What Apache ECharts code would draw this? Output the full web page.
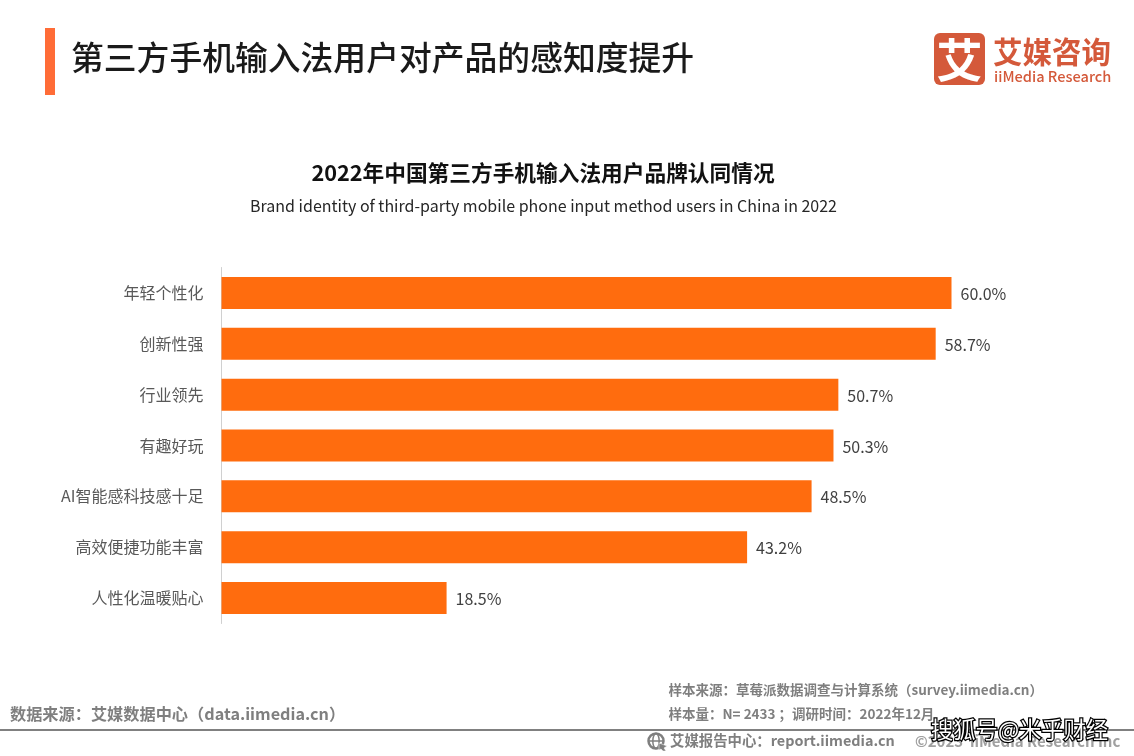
<!DOCTYPE html>
<html><head><meta charset="utf-8">
<style>html,body{margin:0;padding:0;background:#fff}#c{width:1134px;height:756px}</style>
<script src="https://cdn.jsdelivr.net/npm/echarts@6/dist/echarts.min.js"></script>
</head><body><div id="c"></div>
<script>
const categories = ['年轻个性化','创新性强','行业领先','有趣好玩','AI智能感科技感十足','高效便捷功能丰富','人性化温暖贴心'];
const values = [60.0,58.7,50.7,50.3,48.5,43.2,18.5];
const FF = '"Noto Sans CJK SC","Noto Sans",sans-serif';
const chart = echarts.init(document.getElementById('c'), null, {renderer:'canvas'});
const txt = (x,y,t,size,color,weight,align) => ({type:'text',x,y,z:10,style:{text:t,fontSize:size,fontFamily:FF,fill:color,fontWeight:weight||'normal',align:align||'left',verticalAlign:'middle'}});
chart.setOption({
  animation:false,
  backgroundColor:'#fff',
  grid:{left:221.5,top:267.5,width:730,height:356,containLabel:false},
  xAxis:{type:'value',min:0,max:60,show:false},
  yAxis:{type:'category',inverse:true,data:categories,
    axisLine:{show:true,lineStyle:{color:'#d0d0d0',width:1}},
    axisTick:{show:false},
    axisLabel:{color:'#595959',fontSize:16,fontFamily:FF,margin:18,padding:[0,0,4,0]}},
  series:[{type:'bar',data:values,barWidth:32,itemStyle:{color:'#FF6C0E'},
    label:{show:true,position:'right',distance:9,offset:[0,1],color:'#404040',fontSize:16,fontFamily:FF,formatter:p=>p.value.toFixed(1)+'%'}}],
  graphic:[
    {type:'rect',shape:{x:45,y:28,width:10,height:67},style:{fill:'#FF6C37'}},
    txt(71,58,'第三方手机输入法用户对产品的感知度提升',32.8,'#1a1a1a','500'),
    {type:'rect',shape:{x:934,y:33,width:51,height:52,r:6},style:{fill:'#D4593A'}},
    txt(959.5,60,'艾',46,'#fff','bold','center'),
    txt(993,52,'艾媒咨询',29.5,'#D4593A','bold'),
    txt(994,76.5,'iiMedia Research',14.6,'#D4593A','500'),
    txt(543,173,'2022年中国第三方手机输入法用户品牌认同情况',21.7,'#111','bold','center'),
    txt(543.5,206,'Brand identity of third-party mobile phone input method users in China in 2022',16,'#262626','normal','center'),
    txt(10,714,'数据来源：艾媒数据中心（data.iimedia.cn）',16.2,'#7f7f7f','bold'),
    txt(668.5,690,'样本来源：草莓派数据调查与计算系统（survey.iimedia.cn）',13.5,'#7f7f7f','bold'),
    txt(668.5,714,'样本量：N= 2433 ；调研时间：2022年12月',13.5,'#7f7f7f','bold'),
    {type:'rect',shape:{x:0,y:729,width:1134,height:2},style:{fill:'#808080'}},
    {type:'circle',shape:{cx:656,cy:741,r:7.5},style:{fill:'none',stroke:'#7f7f7f',lineWidth:2.5}},
    {type:'line',shape:{x1:648,y1:741,x2:664,y2:741},style:{stroke:'#7f7f7f',lineWidth:1.5}},
    {type:'ellipse',shape:{cx:656,cy:741,rx:3.2,ry:7.5},style:{fill:'none',stroke:'#7f7f7f',lineWidth:1.5}},
    {type:'polygon',shape:{points:[[659,743],[667,746],[664,748],[666,751],[663,751],[661,749],[659,750]]},style:{fill:'#7f7f7f',stroke:'#fff',lineWidth:0.5}},
    txt(670,741,'艾媒报告中心：report.iimedia.cn',14.4,'#7f7f7f','bold'),
    txt(915,741,'©2023  iiMedia Research Inc',15,'#a0a0a0','bold'),
    {type:'text',x:931,y:730,z:20,style:{text:'搜狐号@米乎财经',fontSize:22.3,fontFamily:FF,fill:'#fff',stroke:'#000',lineWidth:2.5,fontWeight:'normal',align:'left',verticalAlign:'middle'}}
  ]
});
</script></body></html>
